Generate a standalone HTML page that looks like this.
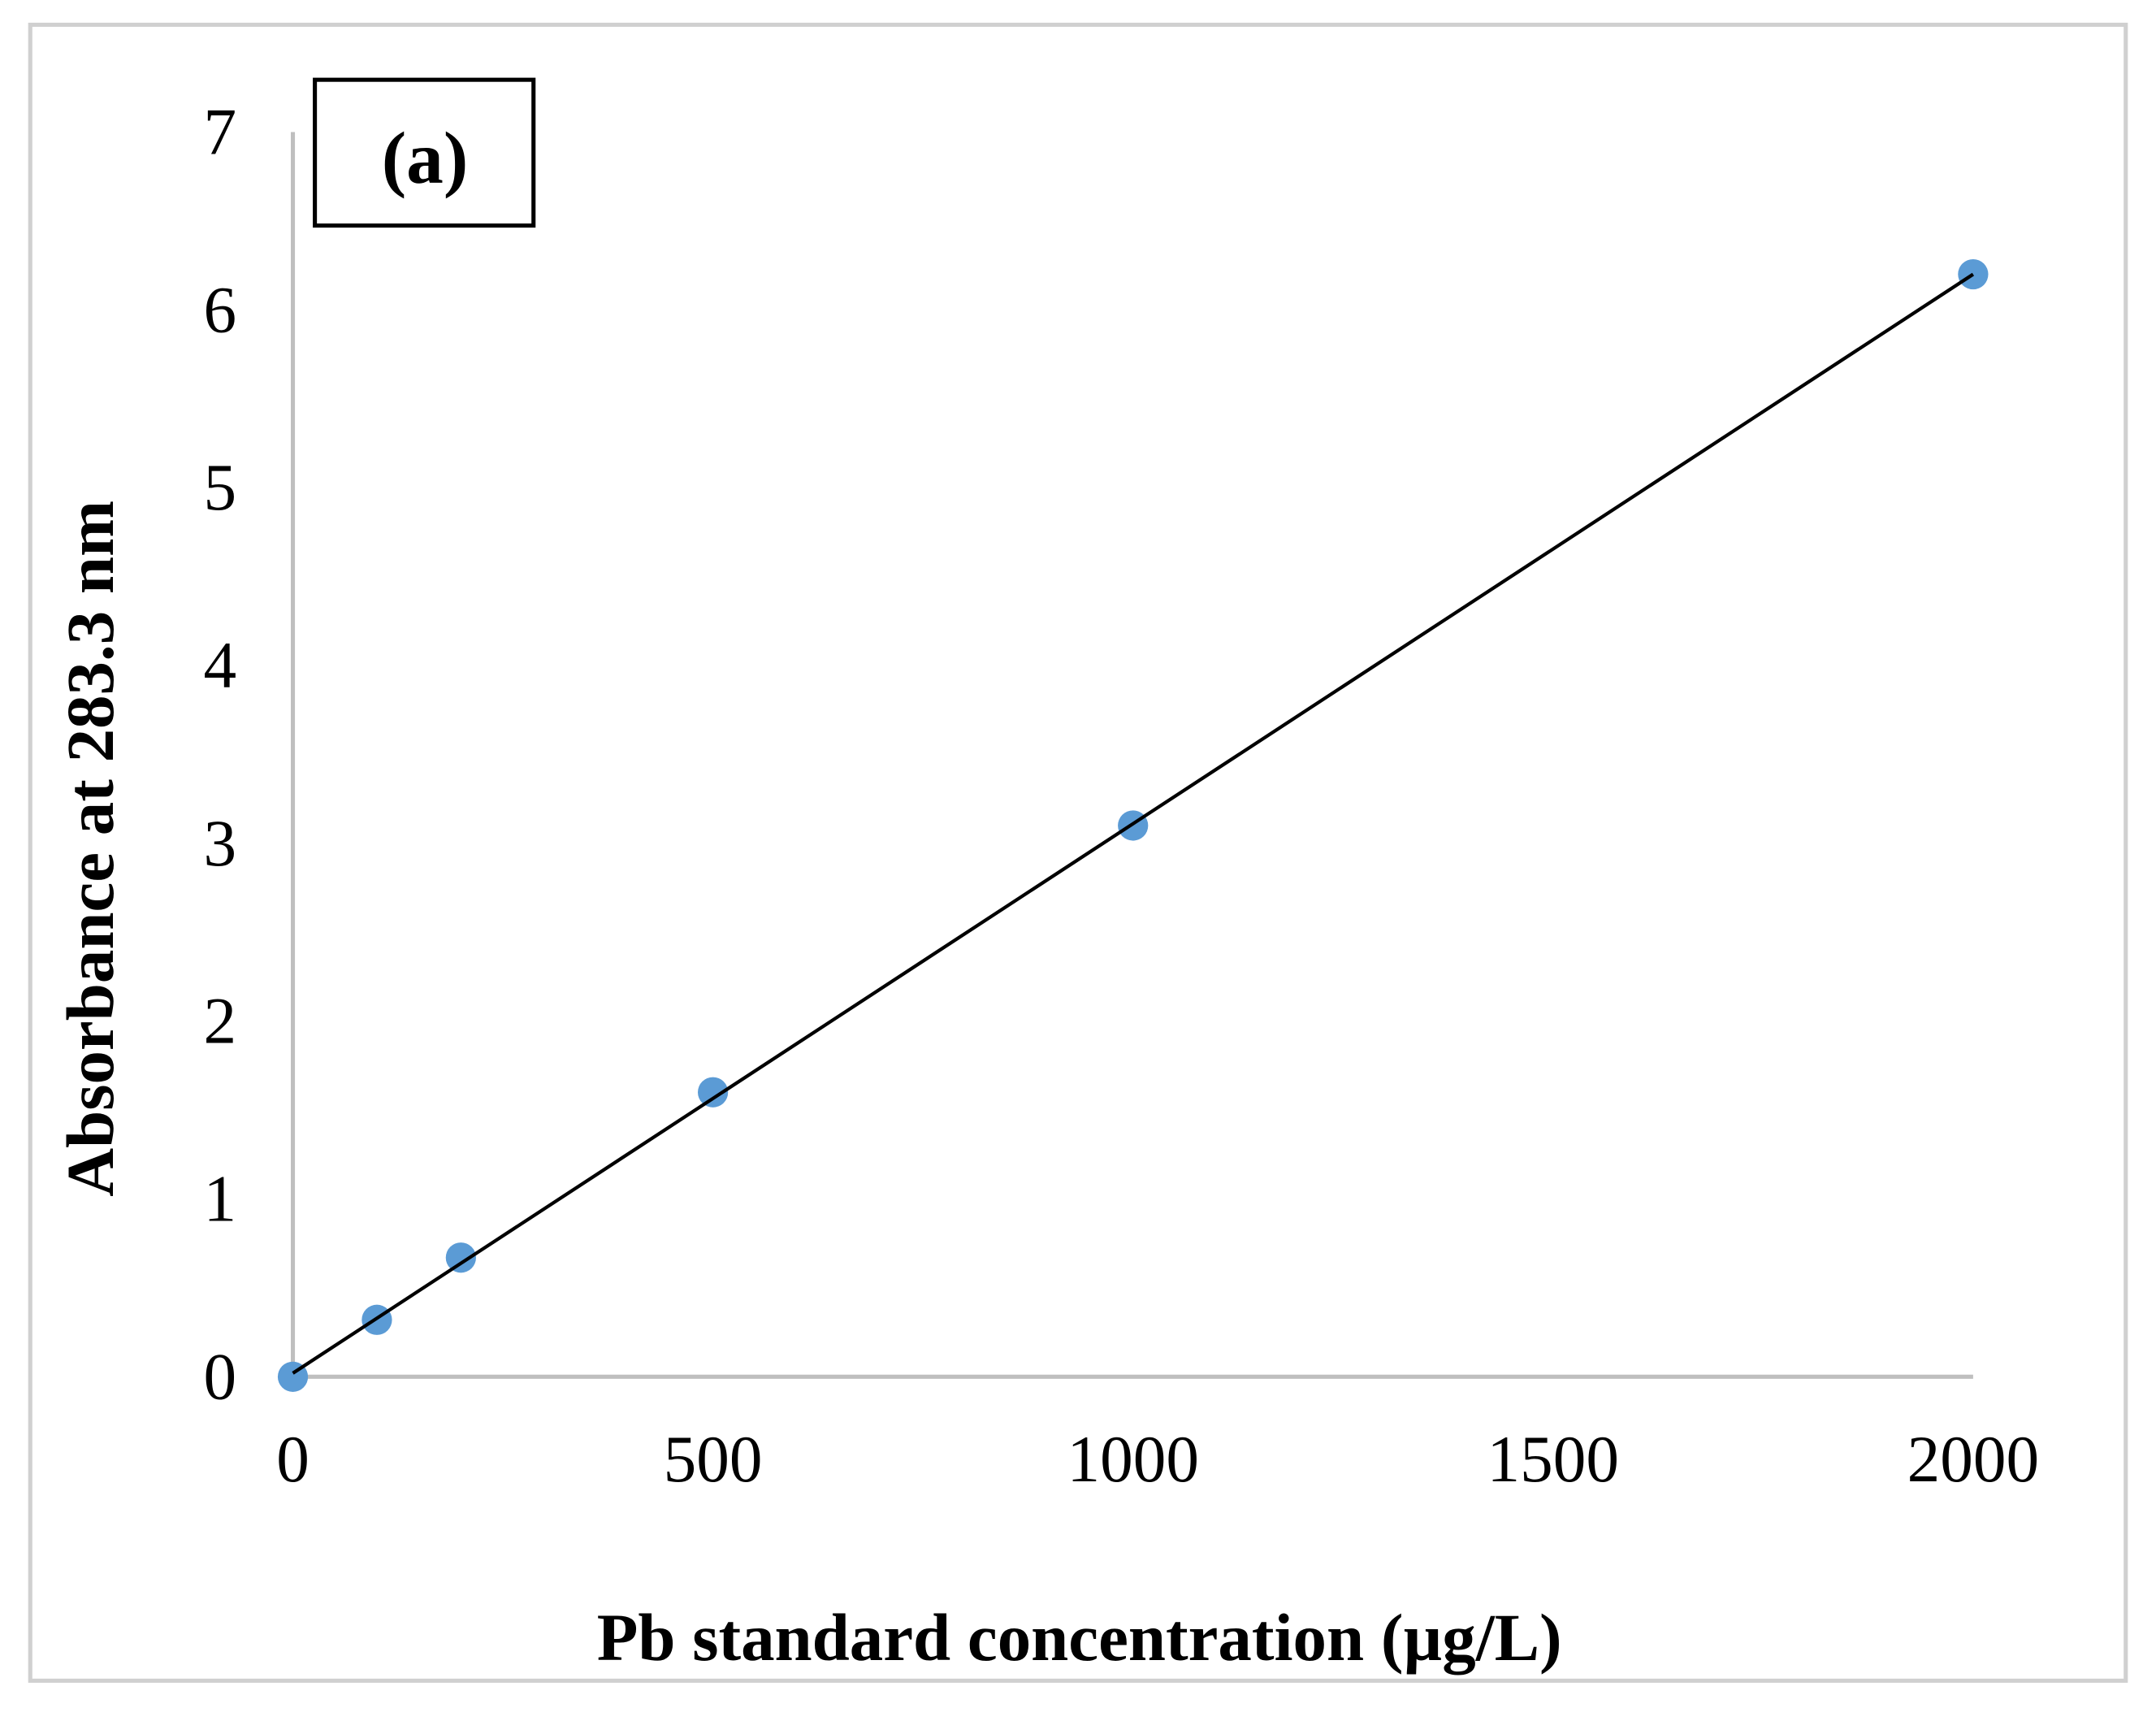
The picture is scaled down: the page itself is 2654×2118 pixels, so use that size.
<!DOCTYPE html>
<html><head><meta charset="utf-8">
<style>
html,body{margin:0;padding:0;background:#fff;}
svg{display:block;}
text{font-family:"Liberation Serif",serif;fill:#000;}
</style></head>
<body>
<svg id="chart" width="2654" height="2118" viewBox="0 0 1568 1251.3" preserveAspectRatio="none" xmlns="http://www.w3.org/2000/svg">
<rect x="22" y="18" width="1524" height="1204" fill="#fff" stroke="#d0d0d0" stroke-width="3"/>
<g id="axes"></g>
<g id="marks"></g>
<rect x="229" y="58" width="159" height="106" fill="#fff" stroke="#000" stroke-width="3"/>
<text x="309" y="133" font-size="54" font-weight="bold" text-anchor="middle">(a)</text>
<text transform="translate(82,617) rotate(-90)" font-size="49" font-weight="bold" text-anchor="middle">Absorbance at 283.3 nm</text>
<text x="785" y="1207" font-size="49" font-weight="bold" text-anchor="middle">Pb standard concentration (µg/L)</text>
</svg>
<script>
const xTicks = [0, 500, 1000, 1500, 2000];
const yTicks = [0, 1, 2, 3, 4, 5, 6, 7];
const concentrations = [0, 100, 200, 500, 1000, 2000];
const absorbance = [0, 0.32, 0.67, 1.60, 3.10, 6.20];
const trendX = [0, 2000];
const trendY = [0.02, 6.20];

const NS = "http://www.w3.org/2000/svg";
const X0 = 213, X1 = 1435, Y0 = 1001, Y1 = 96;
function xs(v){ return X0 + (v - 0) / 2000 * (X1 - X0); }
function ys(v){ return Y0 - (v - 0) / 7 * (Y0 - Y1); }
function mk(tag, attrs){ const e = document.createElementNS(NS, tag); for (const k in attrs) e.setAttribute(k, attrs[k]); return e; }

const axes = document.getElementById('axes');
const marks = document.getElementById('marks');

const yAxis = mk('line', {x1: X0, y1: ys(7), x2: X0, y2: ys(0), stroke: '#bfbfbf', 'stroke-width': 3});


axes.appendChild(yAxis);
const xAxis = mk('line', {x1: X0, y1: Y0, x2: X1, y2: Y0, stroke: '#bfbfbf', 'stroke-width': 3});


axes.appendChild(xAxis);

yTicks.forEach(v => {
  const t = mk('text', {x: 172, y: ys(v) + 16, 'font-size': 48, 'text-anchor': 'end'});
  t.textContent = v;
  
  
  axes.appendChild(t);
});
xTicks.forEach(v => {
  const t = mk('text', {x: xs(v), y: 1077, 'font-size': 48, 'text-anchor': 'middle'});
  t.textContent = v;
  
  
  axes.appendChild(t);
});

concentrations.forEach((c, i) => {
  const p = mk('circle', {cx: xs(c), cy: ys(absorbance[i]), r: 11, fill: '#5b9bd5'});
  
  
  marks.appendChild(p);
});

const tl = mk('line', {x1: xs(trendX[0]), y1: ys(trendY[0]), x2: xs(trendX[1]), y2: ys(trendY[1]), stroke: '#000', 'stroke-width': 2.5});


marks.appendChild(tl);
</script>
</body></html>
